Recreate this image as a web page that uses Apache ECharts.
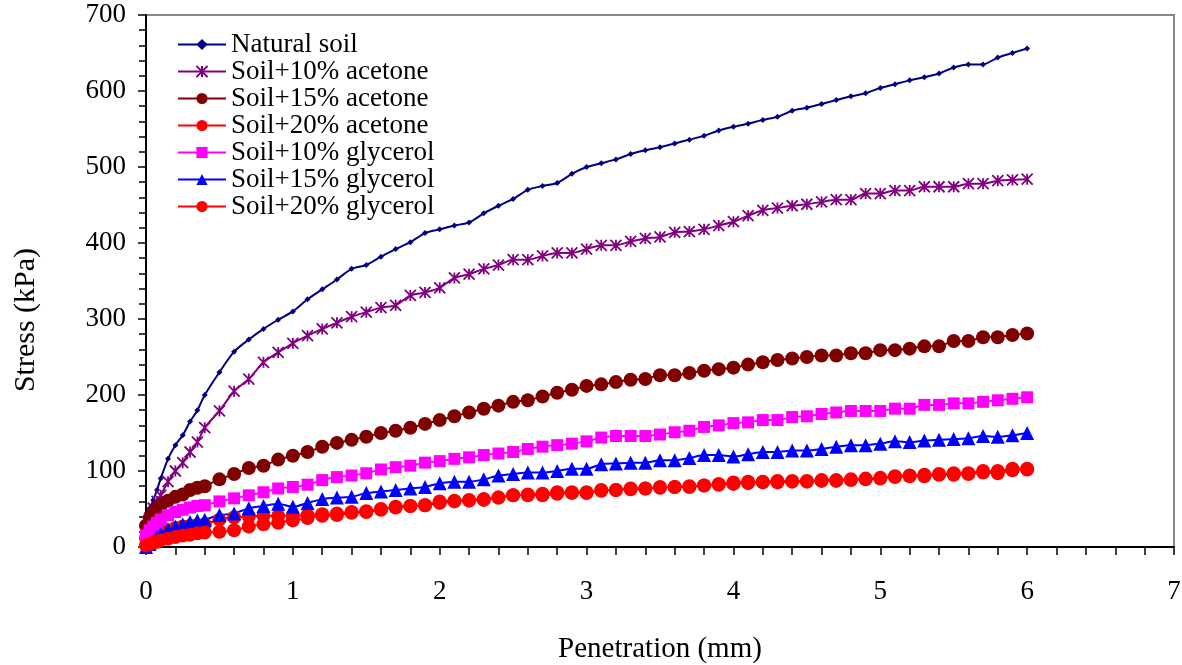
<!DOCTYPE html>
<html>
<head>
<meta charset="utf-8">
<script src="https://cdn.jsdelivr.net/npm/echarts@6/dist/echarts.min.js"></script>
<style>
  html, body { margin: 0; padding: 0; background: #fff; }
  #chart { width: 1182px; height: 665px; }
</style>
</head>
<body>
<div id="chart"></div>
<script>
// penetration (mm) shared by every curve
const penetration = [
  0, 0.025, 0.05, 0.075, 0.1, 0.15, 0.2, 0.25, 0.3, 0.35, 0.4,
  0.5, 0.6, 0.7, 0.8, 0.9, 1.0, 1.1, 1.2, 1.3, 1.4,
  1.5, 1.6, 1.7, 1.8, 1.9, 2.0, 2.1, 2.2, 2.3, 2.4,
  2.5, 2.6, 2.7, 2.8, 2.9, 3.0, 3.1, 3.2, 3.3, 3.4,
  3.5, 3.6, 3.7, 3.8, 3.9, 4.0, 4.1, 4.2, 4.3, 4.4,
  4.5, 4.6, 4.7, 4.8, 4.9, 5.0, 5.1, 5.2, 5.3, 5.4,
  5.5, 5.6, 5.7, 5.8, 5.9, 6.0
];

// stress (kPa)
const naturalSoil = [
  40, 51, 62, 75, 90, 116, 134, 147, 165, 180, 200,
  230, 257, 273, 287, 299, 310, 326, 339, 352, 366,
  371, 382, 392, 401, 413, 418, 423, 427, 439, 449,
  458, 470, 475, 479, 491, 500, 505, 510, 517, 522,
  526, 531, 536, 541, 548, 553, 557, 562, 566, 574,
  578, 583, 588, 593, 597, 604, 609, 614, 618, 623,
  631, 635, 635, 644, 650, 656
];
const acetone10 = [
  25, 38, 51, 60, 68, 86, 100, 111, 125, 138, 157,
  179, 205, 221, 243, 256, 268, 278, 287, 295, 303,
  309, 315, 318, 331, 335, 341, 354, 359, 366, 371,
  378, 378, 383, 387, 387, 392, 397, 397, 402, 406,
  408, 414, 415, 418, 423, 428, 436, 443, 446, 449,
  451, 454, 457, 457, 465, 465, 469, 469, 474, 474,
  474, 478, 478, 482, 483, 484
];
const acetone15 = [
  28, 38, 45, 51, 55, 61, 66, 69, 75, 78, 80,
  89, 96, 104, 107, 115, 120, 125, 132, 137, 141,
  145, 150, 153, 157, 162, 167, 172, 177, 182, 186,
  191, 193, 198, 203, 207, 212, 214, 217, 220, 221,
  226, 226, 229, 232, 234, 236, 240, 243, 246, 248,
  250, 252, 252, 255, 255, 259, 259, 261, 264, 264,
  271, 271, 276, 276, 279, 281
];
const acetone20 = [
  12, 14, 15, 17, 19, 22, 25, 27, 28, 29, 30,
  36, 39, 40, 41, 41, 41, 42, 43, 44, 46,
  47, 50, 52, 54, 55, 58, 60, 61, 62, 65,
  68, 69, 70, 72, 72, 72, 75, 75, 77, 77,
  79, 79, 80, 81, 83, 85, 86, 86, 87, 87,
  87, 88, 88, 89, 90, 91, 93, 94, 95, 96,
  97, 97, 100, 100, 103, 103
];
const glycerol10 = [
  15, 22, 27, 32, 36, 42, 46, 49, 52, 54, 55,
  60, 64, 68, 72, 77, 79, 82, 88, 92, 94,
  97, 102, 105, 107, 111, 113, 116, 118, 121, 123,
  125, 129, 132, 134, 136, 139, 144, 146, 146, 146,
  148, 151, 153, 158, 160, 163, 164, 167, 167, 171,
  172, 175, 177, 179, 179, 179, 182, 182, 187, 187,
  189, 189, 191, 193, 195, 197
];
const glycerol15 = [
  0, 4, 8, 13, 17, 23, 27, 30, 33, 35, 36,
  42, 44, 51, 54, 57, 53, 58, 63, 65, 66,
  71, 73, 75, 77, 79, 84, 86, 86, 89, 94,
  96, 98, 98, 100, 103, 103, 109, 110, 111, 111,
  114, 114, 117, 121, 121, 119, 122, 125, 125, 127,
  127, 129, 132, 134, 134, 136, 139, 138, 140, 141,
  142, 143, 146, 145, 147, 150
];
const glycerol20 = [
  2, 4, 6, 7, 9, 11, 13, 15, 16, 18, 19,
  20, 22, 27, 30, 32, 35, 38, 41, 42, 45,
  46, 49, 53, 54, 55, 60, 61, 62, 63, 65,
  68, 68, 68, 70, 71, 71, 74, 75, 76, 77,
  78, 79, 79, 81, 82, 83, 84, 85, 85, 86,
  86, 87, 87, 88, 89, 90, 92, 93, 93, 95,
  95, 96, 98, 97, 101, 102
];

const seriesNames = [
  'Natural soil', 'Soil+10% acetone', 'Soil+15% acetone', 'Soil+20% acetone',
  'Soil+10% glycerol', 'Soil+15% glycerol', 'Soil+20% glycerol'
];

const FONT = '"Liberation Serif", "Times New Roman", serif';
const asterisk = 'path://M0,0 L10,10 M10,0 L0,10 M5,0 L5,10';

function pairs(ys) {
  return penetration.map((x, i) => [x, ys[i]]);
}

function line(name, ys, color, symbol, size, width, extra) {
  return Object.assign({
    name: name,
    type: 'line',
    data: pairs(ys),
    smooth: 0.25,
    symbol: symbol,
    symbolSize: size,
    showSymbol: true,
    lineStyle: { color: color, width: width },
    itemStyle: { color: color },
    emphasis: { disabled: true },
    animation: false
  }, extra || {});
}

const chart = echarts.init(document.getElementById('chart'));
chart.setOption({
  backgroundColor: '#ffffff',
  grid: {
    left: 146, right: 8, top: 15, bottom: 118,
    outerBoundsMode: 'none',
    show: true, borderColor: '#888888', borderWidth: 2
  },
  legend: {
    orient: 'vertical',
    left: 172, top: 26,
    itemWidth: 48, itemHeight: 14, itemGap: 0,
    textStyle: { fontFamily: FONT, fontSize: 27, color: '#000', lineHeight: 27 },
    data: seriesNames
  },
  xAxis: {
    type: 'value', min: 0, max: 7, interval: 1,
    name: 'Penetration (mm)', nameLocation: 'middle', nameGap: 88,
    nameTextStyle: { fontFamily: FONT, fontSize: 29, color: '#000' },
    axisLine: { lineStyle: { color: '#000', width: 2 } },
    axisTick: { show: true, length: 8, lineStyle: { color: '#000', width: 1.5 } },
    minorTick: { show: true, splitNumber: 5, length: 8, lineStyle: { color: '#000', width: 1.5 } },
    axisLabel: { fontFamily: FONT, fontSize: 27, color: '#000', margin: 31 },
    splitLine: { show: false }
  },
  yAxis: {
    type: 'value', min: 0, max: 700, interval: 100,
    axisLine: { show: true, lineStyle: { color: '#000', width: 2 } },
    axisTick: { show: true, length: 8, lineStyle: { color: '#000', width: 1.5 } },
    minorTick: { show: true, splitNumber: 5, length: 7, lineStyle: { color: '#000', width: 1.5 } },
    axisLabel: { fontFamily: FONT, fontSize: 27, color: '#000', margin: 20 },
    splitLine: { show: false }
  },
  graphic: [{
    type: 'text',
    x: 26, y: 320,
    rotation: Math.PI / 2,
    style: {
      text: 'Stress (kPa)', fontFamily: FONT, fontSize: 30, fill: '#000',
      align: 'center', verticalAlign: 'middle'
    }
  }],
  series: [
    line(seriesNames[0], naturalSoil, '#000080', 'diamond', 6, 2),
    line(seriesNames[1], acetone10, '#800080', asterisk, 11, 2,
      { itemStyle: { color: '#800080', borderColor: '#800080', borderWidth: 1.8 } }),
    line(seriesNames[2], acetone15, '#800000', 'circle', 14, 2),
    line(seriesNames[3], acetone20, '#ff0000', 'circle', 14, 2),
    line(seriesNames[4], glycerol10, '#ff00ff', 'rect', 12, 2),
    line(seriesNames[5], glycerol15, '#0000ff', 'triangle', 14, 2),
    line(seriesNames[6], glycerol20, '#ff0000', 'circle', 14, 2)
  ]
});
</script>
</body>
</html>
